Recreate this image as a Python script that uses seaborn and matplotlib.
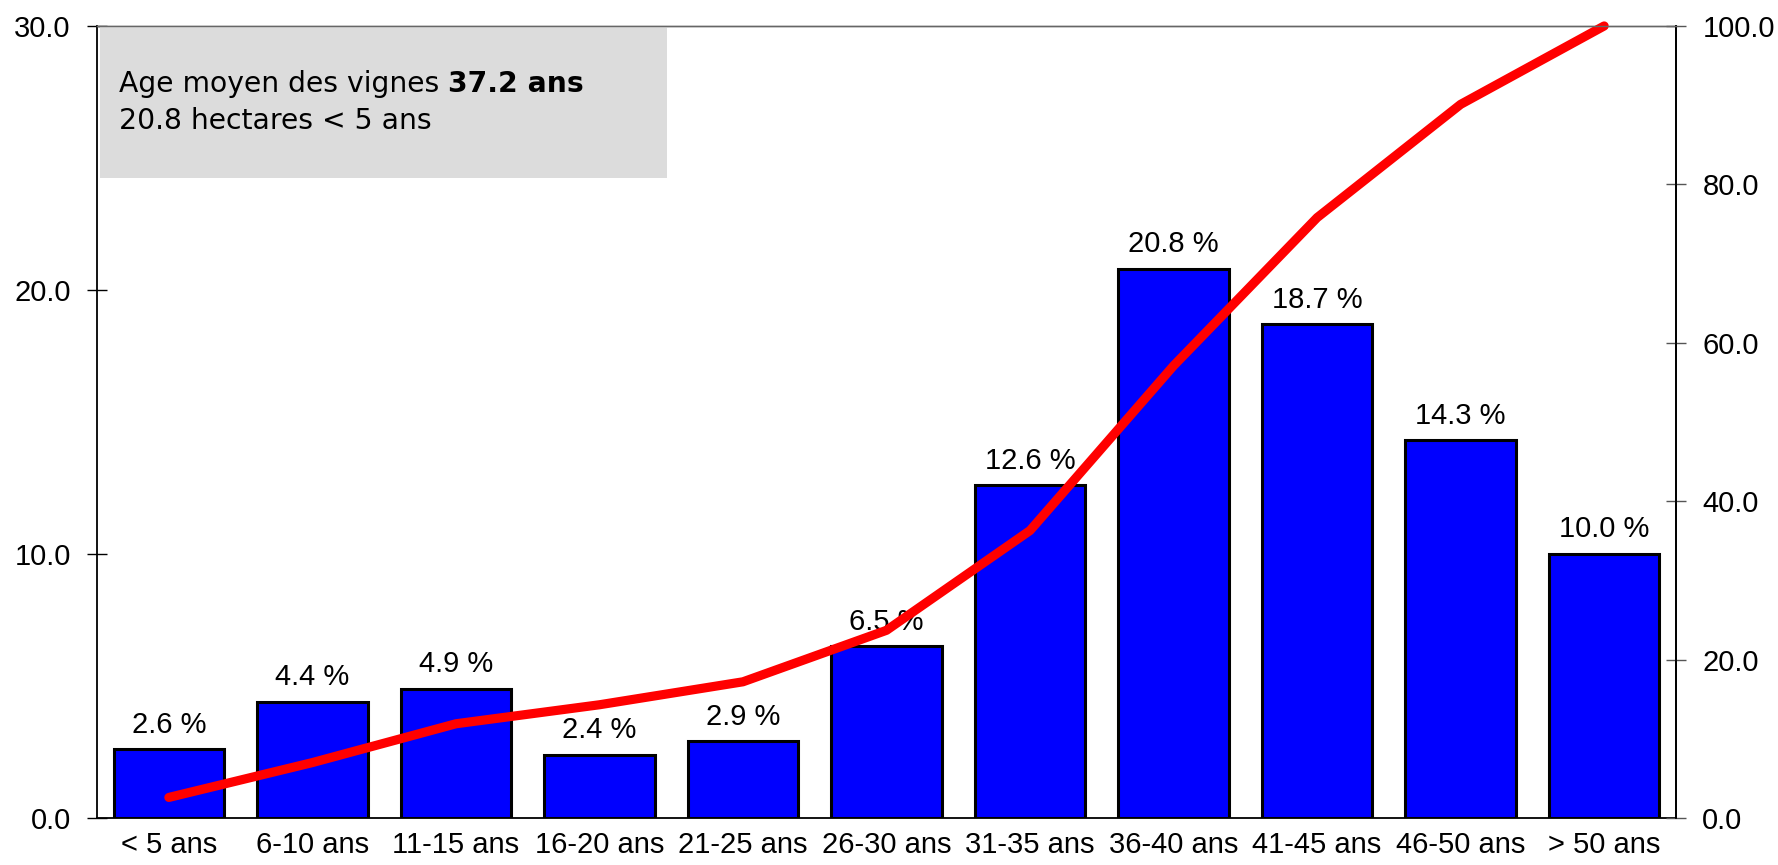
import numpy as np
import pandas as pd
import matplotlib
matplotlib.use("Agg")
import matplotlib.pyplot as plt
from matplotlib.patches import Rectangle
from matplotlib.ticker import FixedLocator, FormatStrFormatter
import seaborn as sns

# données
classes = ["< 5 ans", "6-10 ans", "11-15 ans", "16-20 ans", "21-25 ans", "26-30 ans",
           "31-35 ans", "36-40 ans", "41-45 ans", "46-50 ans", "> 50 ans"]
surface_pct = [2.6, 4.4, 4.9, 2.4, 2.9, 6.5, 12.6, 20.8, 18.7, 14.3, 10.0]
cumul_pct = [2.6, 7.0, 11.9, 14.3, 17.2, 23.7, 36.3, 57.1, 75.8, 90.1, 100.0]
left_ticks = [0, 10, 20, 30]
right_ticks = [0, 20, 40, 60, 80, 100]
info_line1 = "Age moyen des vignes "
info_bold = "37.2 ans"
info_line2 = "20.8 hectares < 5 ans"

sns.set_style("white")
plt.rcParams["font.family"] = ["Liberation Sans", "DejaVu Sans"]
plt.rcParams["text.color"] = "black"
plt.rcParams["xtick.color"] = "black"
plt.rcParams["ytick.color"] = "black"

fig = plt.figure(figsize=(17.78, 8.65), dpi=100)
ax = fig.add_axes([0.0546, 0.0543, 0.888, 0.9157])

df = pd.DataFrame({"classe": classes, "pct": surface_pct})
sns.barplot(data=df, x="classe", y="pct", color="#0000ff", saturation=1,
            width=0.77, edgecolor="black", linewidth=2.2, errorbar=None, ax=ax)
ax.set_xlabel("")
ax.set_ylabel("")

for i, v in enumerate(surface_pct):
    ax.annotate(f"{v:.1f} %", (i, v), xytext=(0, 12), textcoords="offset points",
                ha="center", va="baseline", fontsize=21, color="black")

# courbe cumulée sur l'axe de droite
ax2 = ax.twinx()
sns.lineplot(x=np.arange(len(classes)), y=cumul_pct, color="#ff0000", linewidth=6.6,
             solid_capstyle="round", ax=ax2)
for line in ax2.lines:
    line.set_clip_on(False)

ax.set_xlim(-0.5, len(classes) - 0.5)
ax.set_ylim(0, 30)
ax2.set_ylim(0, 100)

ax.yaxis.set_major_locator(FixedLocator(left_ticks))
ax.yaxis.set_major_formatter(FormatStrFormatter("%.1f"))
ax2.yaxis.set_major_locator(FixedLocator(right_ticks))
ax2.yaxis.set_major_formatter(FormatStrFormatter("%.1f"))

ax.set_xticks(range(len(classes)))
ax.set_xticklabels(classes)
ax.xaxis.set_minor_locator(FixedLocator(np.arange(-0.5, len(classes), 1.0)))
ax.tick_params(axis="x", which="major", length=0, pad=9, labelsize=21, labelcolor="black")
ax.tick_params(axis="x", which="minor", length=14, direction="inout", width=1, color="#555555")
ax.tick_params(axis="y", length=14, direction="inout", width=1, labelsize=21, pad=12,
               color="black", labelcolor="black", left=True)
ax2.tick_params(axis="y", length=14, direction="inout", width=1, labelsize=21, pad=12,
                color="#555555", labelcolor="black", right=True)

for a in (ax, ax2):
    for s in a.spines.values():
        s.set_visible(True)
        s.set_color("black")
        s.set_linewidth(1.3)
    a.spines["top"].set_color("#666666")
    a.spines["top"].set_linewidth(1.0)
ax2.spines["left"].set_visible(False)
ax2.spines["bottom"].set_visible(False)

# encadré gris
ax2.add_patch(Rectangle((0.002, 0.808), 0.359, 0.191, transform=ax.transAxes,
                        facecolor="#dcdcdc", edgecolor="none", zorder=0.5))
t1 = ax2.text(0.0139, 0.9167, info_line1, transform=ax.transAxes, fontsize=20.3,
              family="DejaVu Sans", va="baseline", ha="left", zorder=3, color="black")
ax2.annotate(info_bold, xy=(1, 0), xycoords=t1, va="bottom", ha="left", fontsize=20.3,
             family="DejaVu Sans", fontweight="bold", zorder=3, color="black")
ax2.text(0.0139, 0.870, info_line2, transform=ax.transAxes, fontsize=20.3,
         family="DejaVu Sans", va="baseline", ha="left", zorder=3, color="black")

fig.savefig("out.png", dpi=100)
